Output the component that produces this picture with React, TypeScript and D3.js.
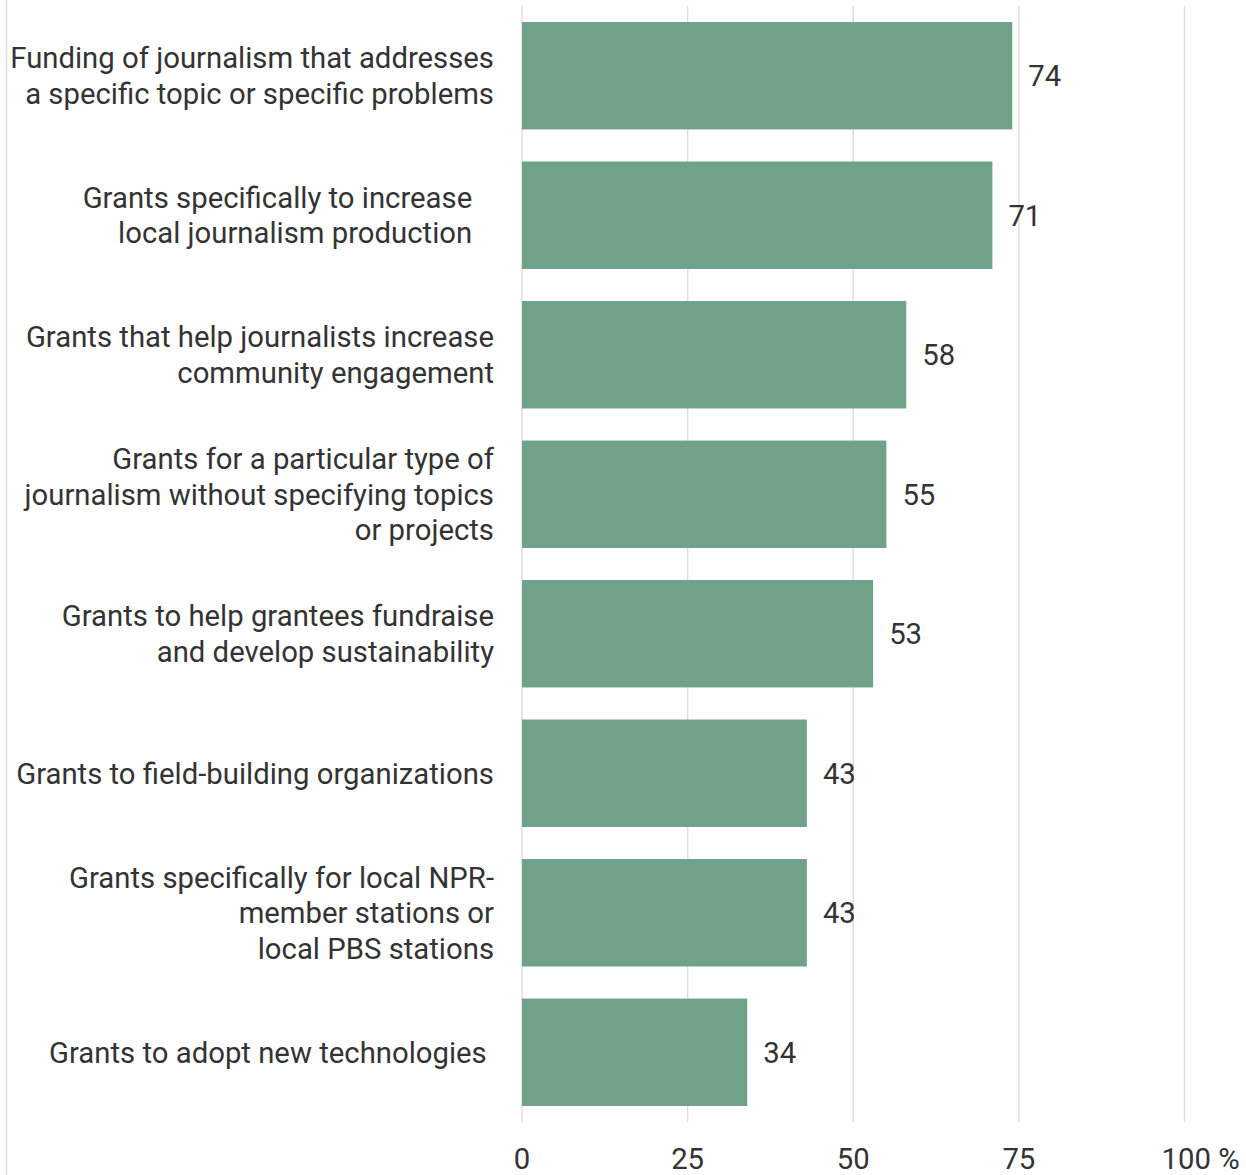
import React from "react";
import * as d3 from "d3";

const categories: string[] = [
  "Funding of journalism that addresses\na specific topic or specific problems",
  "Grants specifically to increase   \nlocal journalism production   ",
  "Grants that help journalists increase\ncommunity engagement",
  "Grants for a particular type of\njournalism without specifying topics\nor projects",
  "Grants to help grantees fundraise\nand develop sustainability",
  "Grants to field-building organizations",
  "Grants specifically for local NPR-\nmember stations or\nlocal PBS stations",
  "Grants to adopt new technologies ",
];
const values: number[] = [74, 71, 58, 55, 53, 43, 43, 34];
const tickValues: number[] = [0, 25, 50, 75, 100];

const W = 1246;
const H = 1175;
const BAR = "#6FA288";
const TEXT = "#333333";
const GRID = "#dedede";
const FS = 29.3;

export default function App() {
  const x = d3.scaleLinear().domain([0, 100]).range([522, 1184.5]);
  const y = d3
    .scaleBand<number>()
    .domain(d3.range(categories.length))
    .range([6, 1122])
    .paddingInner(0.23)
    .paddingOuter(0.115);
  const lh = 35.5;
  return (
    <svg
      width={W}
      height={H}
      style={{ position: "absolute", left: 0, top: 0, fontFamily: "Roboto, sans-serif" }}
    >
      <rect x={0} y={0} width={W} height={H} fill="#fff" />
      <line x1={6.5} x2={6.5} y1={0} y2={H} stroke={GRID} strokeWidth={1.5} />
      {tickValues.map((t) => (
        <line
          key={"g" + t}
          x1={x(t)}
          x2={x(t)}
          y1={y.range()[0]}
          y2={y.range()[1]}
          stroke={GRID}
          strokeWidth={1.5}
        />
      ))}
      {values.map((v, i) => (
        <rect
          key={"b" + i}
          x={x(0)}
          y={y(i)!}
          width={x(v) - x(0)}
          height={y.bandwidth()}
          fill={BAR}
        />
      ))}
      {values.map((v, i) => (
        <text
          key={"v" + i}
          x={x(v) + 16}
          y={y(i)! + y.bandwidth() / 2}
          dy="0.35em"
          fontSize={FS}
          fill={TEXT}
        >
          {v}
        </text>
      ))}
      {categories.map((c, i) => {
        const lines = c.split("\n");
        const cy = y(i)! + y.bandwidth() / 2;
        const start = cy - ((lines.length - 1) * lh) / 2;
        return (
          <text
            key={"c" + i}
            textAnchor="end"
            fontSize={FS}
            fill={TEXT}
            style={{ whiteSpace: "pre" }}
          >
            {lines.map((l, j) => (
              <tspan key={j} x={494} y={start + j * lh} dy="0.35em">
                {l}
              </tspan>
            ))}
          </text>
        );
      })}
      {tickValues.map((t) => (
        <text
          key={"t" + t}
          x={x(t)}
          y={1169}
          textAnchor={t === 100 ? "start" : "middle"}
          dx={t === 100 ? -23 : 0}
          fontSize={FS}
          fill={TEXT}
        >
          {t === 100 ? "100 %" : String(t)}
        </text>
      ))}
    </svg>
  );
}
